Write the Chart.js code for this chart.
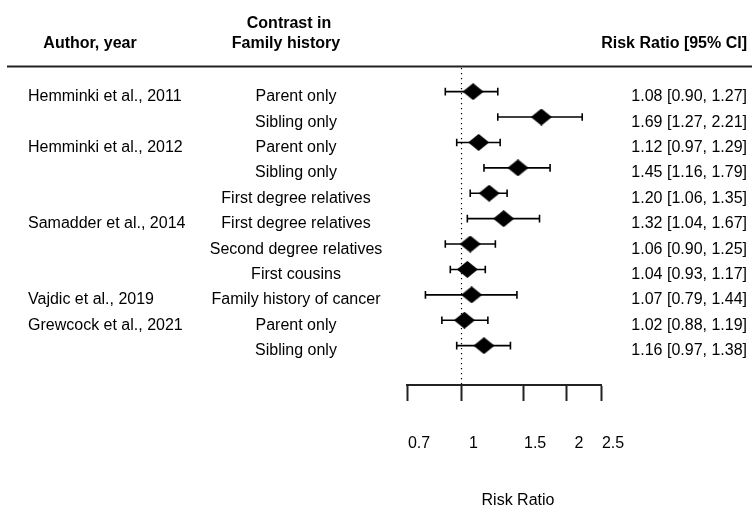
<!DOCTYPE html>
<html>
<head>
<meta charset="utf-8">
<script src="https://cdn.jsdelivr.net/npm/chart.js@4"></script>
<style>
  html, body { margin: 0; padding: 0; background: #fff; }
  #wrap { width: 752px; height: 508px; position: relative; }
</style>
</head>
<body>
<div id="wrap"><canvas id="forest" width="752" height="508"></canvas></div>
<script>
// Study rows, top to bottom
const authors = ["Hemminki et al., 2011", "", "Hemminki et al., 2012", "", "",
  "Samadder et al., 2014", "", "", "Vajdic et al., 2019", "Grewcock et al., 2021", ""];
const contrasts = ["Parent only", "Sibling only", "Parent only", "Sibling only",
  "First degree relatives", "First degree relatives", "Second degree relatives",
  "First cousins", "Family history of cancer", "Parent only", "Sibling only"];
const riskRatio = [1.08, 1.69, 1.12, 1.45, 1.20, 1.32, 1.06, 1.04, 1.07, 1.02, 1.16];
const ciLower   = [0.90, 1.27, 0.97, 1.16, 1.06, 1.04, 0.90, 0.93, 0.79, 0.88, 0.97];
const ciUpper   = [1.27, 2.21, 1.29, 1.79, 1.35, 1.67, 1.25, 1.17, 1.44, 1.19, 1.38];
const xTicks    = [0.7, 1, 1.5, 2, 2.5];

const FONT = "'Liberation Sans', Arial, Helvetica, sans-serif";
const INK = "#000";

// Diamond marker
function makeDiamond(w, h) {
  const c = document.createElement("canvas");
  c.width = w; c.height = h;
  const g = c.getContext("2d");
  g.fillStyle = INK;
  g.beginPath();
  g.moveTo(w / 2, 0);
  g.lineTo(w, h / 2);
  g.lineTo(w / 2, h);
  g.lineTo(0, h / 2);
  g.closePath();
  g.fill();
  return c;
}
const diamond = makeDiamond(21, 17);

const points = riskRatio.map((v, i) => ({ x: v, y: i }));

// Confidence-interval whiskers, reference line at RR = 1, header rule and text columns
const forestDecor = {
  id: "forestDecor",
  beforeDatasetsDraw(chart) {
    const { ctx, chartArea, scales: { x, y } } = chart;
    ctx.save();
    // dotted no-effect line
    ctx.strokeStyle = INK;
    ctx.lineWidth = 1.2;
    ctx.setLineDash([1.2, 3.8]);
    const x1 = Math.round(x.getPixelForValue(1)) + 0.5;
    ctx.beginPath();
    ctx.moveTo(x1, chartArea.top + 1);
    ctx.lineTo(x1, chartArea.bottom);
    ctx.stroke();
    ctx.setLineDash([]);
    // whiskers
    ctx.lineWidth = 1.6;
    riskRatio.forEach((v, i) => {
      const py = y.getPixelForValue(i);
      const lo = x.getPixelForValue(ciLower[i]);
      const hi = x.getPixelForValue(ciUpper[i]);
      ctx.beginPath();
      ctx.moveTo(lo, py); ctx.lineTo(hi, py);
      ctx.moveTo(lo, py - 3.8); ctx.lineTo(lo, py + 3.8);
      ctx.moveTo(hi, py - 3.8); ctx.lineTo(hi, py + 3.8);
      ctx.stroke();
    });
    ctx.restore();
  },
  afterDraw(chart) {
    const { ctx, chartArea, scales: { y } } = chart;
    ctx.save();
    // header rule
    ctx.strokeStyle = "#222";
    ctx.lineWidth = 2;
    ctx.beginPath();
    ctx.moveTo(7, chartArea.top - 0.5);
    ctx.lineTo(752, chartArea.top - 0.5);
    ctx.stroke();

    ctx.fillStyle = INK;
    ctx.textBaseline = "alphabetic";
    ctx.font = "bold 16px " + FONT;
    ctx.textAlign = "center";
    ctx.fillText("Author, year", 90, 48);
    ctx.fillText("Contrast in", 289, 28);
    ctx.fillText("Family history", 286, 48);
    ctx.textAlign = "right";
    ctx.fillText("Risk Ratio [95% CI]", 747, 48);

    ctx.font = "16px " + FONT;
    riskRatio.forEach((v, i) => {
      const ty = y.getPixelForValue(i) + 9.5;
      ctx.textAlign = "left";
      ctx.fillText(authors[i], 28, ty);
      ctx.textAlign = "center";
      ctx.fillText(contrasts[i], 296, ty);
      ctx.textAlign = "right";
      ctx.fillText(v.toFixed(2) + " [" + ciLower[i].toFixed(2) + ", " + ciUpper[i].toFixed(2) + "]", 747, ty);
    });

    // axis title
    ctx.textAlign = "center";
    ctx.fillText("Risk Ratio", 518, 505);
    ctx.restore();
  }
};

new Chart(document.getElementById("forest"), {
  type: "scatter",
  data: {
    datasets: [{
      data: points,
      pointStyle: diamond,
      radius: 10,
      hoverRadius: 10,
      clip: false
    }]
  },
  options: {
    responsive: false,
    animation: false,
    events: [],
    layout: { padding: { left: 407, right: 151, top: 67, bottom: 0 } },
    plugins: { legend: { display: false }, tooltip: { enabled: false } },
    scales: {
      x: {
        type: "logarithmic",
        min: 0.7,
        max: 2.5,
        afterBuildTicks(scale) { scale.ticks = xTicks.map(v => ({ value: v })); },
        afterFit(scale) { scale.height = 123; },
        border: { display: true, color: "#222", width: 2 },
        grid: { drawOnChartArea: false, drawTicks: true, tickLength: 16, color: "#222", tickWidth: 2 },
        ticks: {
          autoSkip: false,
          maxRotation: 0,
          padding: 33,
          labelOffset: 12,
          color: INK,
          font: { family: FONT, size: 16 },
          callback: (v) => String(v)
        }
      },
      y: {
        display: false,
        reverse: true,
        min: -0.97,
        max: 11.55
      }
    }
  },
  plugins: [forestDecor]
});
</script>
</body>
</html>
